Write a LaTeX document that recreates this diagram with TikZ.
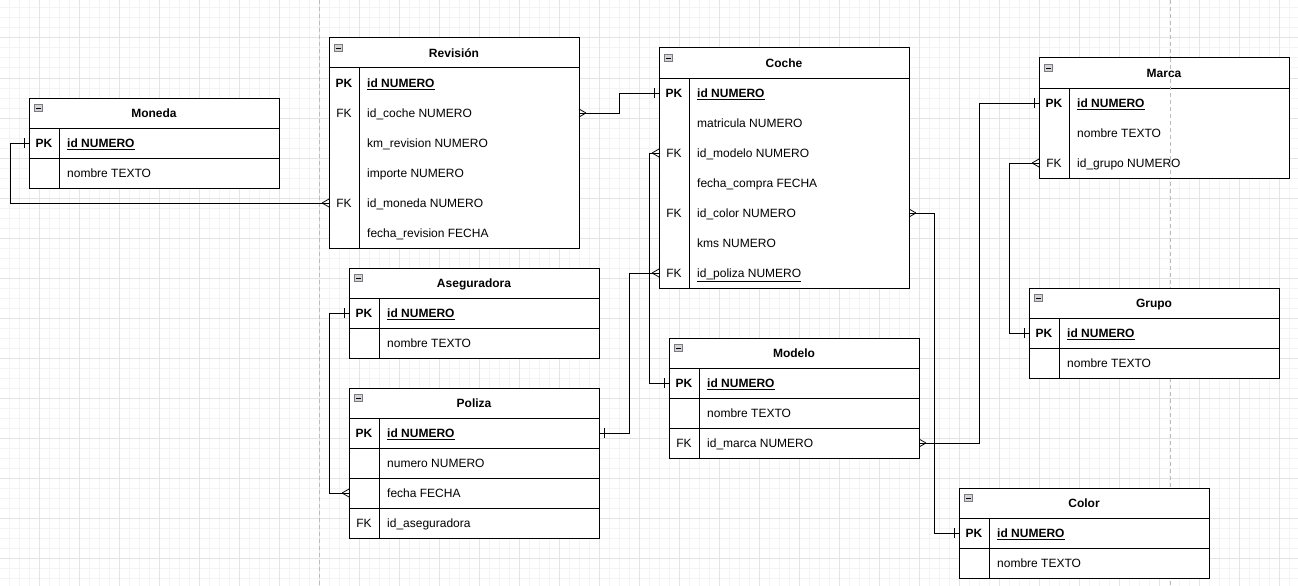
\documentclass[tikz,border=0pt]{standalone}
\usepackage{fontspec}
\setmainfont{Liberation Sans}
\definecolor{gminor}{HTML}{F4F4F4}
\definecolor{gmajor}{HTML}{E4E4E4}
\definecolor{pagedash}{HTML}{BBBBBB}
\definecolor{iconfill}{HTML}{D4D4D8}
\definecolor{iconline}{HTML}{7A7A80}
\tikzset{
  tline/.style={line width=1pt, draw=black},
  hdrbox/.style={draw, line width=1pt, minimum width=250pt, minimum height=30pt, anchor=north west, inner sep=0pt, outer sep=0pt, font=\fontsize{12}{14}\selectfont\bfseries, text height=8.6pt, text depth=0pt, fill=white},
  rowline/.style={draw, line width=1pt, minimum width=250pt, minimum height=30pt, anchor=north west, inner sep=0pt, outer sep=0pt, fill=white},
  rowfree/.style={minimum width=250pt, minimum height=30pt, anchor=north west, inner sep=0pt, outer sep=0pt, fill=white},
  keytxt/.style={anchor=center, inner sep=0pt, text height=8.6pt, text depth=0pt},
  fldtxt/.style={anchor=west, inner sep=0pt, text height=8.6pt, text depth=0pt},
  rel/.style={line width=1pt, draw=black},
  pagebreak/.style={pagedash, line width=1pt, dash pattern=on 4pt off 3pt},
  iconbox/.style={draw=iconline, fill=iconfill, minimum width=8pt, minimum height=7pt, inner sep=0pt, line width=0.6pt},
  manyW/.pic={\draw[line width=0.8pt] (-7,0) -- (0,-4) (-7,0) -- (0,4);},
  manyE/.pic={\draw[line width=0.8pt] (7,0) -- (0,-4) (7,0) -- (0,4);},
  oneW/.pic={\draw[line width=0.9pt] (-5,-5) -- (-5,5);},
  oneE/.pic={\draw[line width=0.9pt] (5,-5) -- (5,5);},
}
\newcommand\ehead[4]{%
  \node[hdrbox] (#1) at (#2,#3) {#4};
  \node[iconbox] (#1-i) at ([xshift=9.5pt,yshift=-10pt]#1.north west) {};
  \draw[line width=0.9pt] ([xshift=-2.5pt]#1-i.center) -- ([xshift=2.5pt]#1-i.center);
}
\newcommand\erow[6]{%
  \node[#1] (#2) at (#3,#4) {};
  \node[keytxt] (#2-k) at ([xshift=15pt]#2.west) {#5};
  \node[fldtxt] (#2-f) at ([xshift=38pt]#2.west) {#6};
}
\newcommand\eframe[3]{%
  \draw[tline] (#1.north west) rectangle (#2.south east);
  \draw[tline] ([xshift=30pt]#3.north west) -- ([xshift=30pt]#2.south west);
}
\begin{document}
\begin{tikzpicture}[x=1pt, y=-1pt, font=\fontsize{12}{14}\selectfont]
\useasboundingbox (0,0) rectangle (1298,586);
\fill[white] (0,0) rectangle (1298,586);
% grid
\foreach \g in {9,19,...,1298} {\draw[gminor, line width=1pt] (\g,0) -- (\g,586);}
\foreach \g in {8,18,...,586} {\draw[gminor, line width=1pt] (0,\g) -- (1298,\g);}
\foreach \g in {39,79,...,1298} {\draw[gmajor, line width=1pt] (\g,0) -- (\g,586);}
\foreach \g in {38,78,...,586} {\draw[gmajor, line width=1pt] (0,\g) -- (1298,\g);}
% page break lines
\draw[pagebreak] (319,0) -- (319,586);
\draw[pagebreak] (1170,0) -- (1170,586);

% Moneda
\ehead{mon}{29}{98}{Moneda}
\erow{rowline}{mon-r1}{29}{128}{\textbf{PK}}{\textbf{\underline{id NUMERO}}}
\erow{rowline}{mon-r2}{29}{158}{}{nombre TEXTO}
\eframe{mon}{mon-r2}{mon-r1}

% Revision
\ehead{rev}{329}{38}{Revisión}
\erow{rowline}{rev-r1}{329}{68}{\textbf{PK}}{\textbf{\underline{id NUMERO}}}
\erow{rowfree}{rev-r2}{329}{98}{FK}{id\_coche NUMERO}
\erow{rowfree}{rev-r3}{329}{128}{}{km\_revision NUMERO}
\erow{rowfree}{rev-r4}{329}{158}{}{importe NUMERO}
\erow{rowfree}{rev-r5}{329}{188}{FK}{id\_moneda NUMERO}
\erow{rowfree}{rev-r6}{329}{218}{}{fecha\_revision FECHA}
\eframe{rev}{rev-r6}{rev-r1}

% Aseguradora
\ehead{ase}{349}{268}{Aseguradora}
\erow{rowline}{ase-r1}{349}{298}{\textbf{PK}}{\textbf{\underline{id NUMERO}}}
\erow{rowline}{ase-r2}{349}{328}{}{nombre TEXTO}
\eframe{ase}{ase-r2}{ase-r1}

% Poliza
\ehead{pol}{349}{388}{Poliza}
\erow{rowline}{pol-r1}{349}{418}{\textbf{PK}}{\textbf{\underline{id NUMERO}}}
\erow{rowline}{pol-r2}{349}{448}{}{numero NUMERO}
\erow{rowline}{pol-r3}{349}{478}{}{fecha FECHA}
\erow{rowline}{pol-r4}{349}{508}{FK}{id\_aseguradora}
\eframe{pol}{pol-r4}{pol-r1}

% Coche
\ehead{coc}{659}{48}{Coche}
\erow{rowline}{coc-r1}{659}{78}{\textbf{PK}}{\textbf{\underline{id NUMERO}}}
\erow{rowfree}{coc-r2}{659}{108}{}{matricula NUMERO}
\erow{rowfree}{coc-r3}{659}{138}{FK}{id\_modelo NUMERO}
\erow{rowfree}{coc-r4}{659}{168}{}{fecha\_compra FECHA}
\erow{rowfree}{coc-r5}{659}{198}{FK}{id\_color NUMERO}
\erow{rowfree}{coc-r6}{659}{228}{}{kms NUMERO}
\erow{rowfree}{coc-r7}{659}{258}{FK}{\underline{id\_poliza NUMERO}}
\eframe{coc}{coc-r7}{coc-r1}

% Modelo
\ehead{mod}{669}{338}{Modelo}
\erow{rowline}{mod-r1}{669}{368}{\textbf{PK}}{\textbf{\underline{id NUMERO}}}
\erow{rowline}{mod-r2}{669}{398}{}{nombre TEXTO}
\erow{rowline}{mod-r3}{669}{428}{FK}{id\_marca NUMERO}
\eframe{mod}{mod-r3}{mod-r1}

% Marca
\ehead{mar}{1039}{58}{Marca}
\erow{rowline}{mar-r1}{1039}{88}{\textbf{PK}}{\textbf{\underline{id NUMERO}}}
\erow{rowfree}{mar-r2}{1039}{118}{}{nombre TEXTO}
\erow{rowfree}{mar-r3}{1039}{148}{FK}{id\_grupo NUMERO}
\eframe{mar}{mar-r3}{mar-r1}
% page break visible through Marca
\draw[pagebreak] (1170,58) -- (1170,178);

% Grupo
\ehead{gru}{1029}{288}{Grupo}
\erow{rowline}{gru-r1}{1029}{318}{\textbf{PK}}{\textbf{\underline{id NUMERO}}}
\erow{rowline}{gru-r2}{1029}{348}{}{nombre TEXTO}
\eframe{gru}{gru-r2}{gru-r1}

% Color
\ehead{col}{959}{488}{Color}
\erow{rowline}{col-r1}{959}{518}{\textbf{PK}}{\textbf{\underline{id NUMERO}}}
\erow{rowline}{col-r2}{959}{548}{}{nombre TEXTO}
\eframe{col}{col-r2}{col-r1}

% Relationships
\draw[rel] (rev-r5.west) -| ([xshift=-19pt]mon-r1.west) -- (mon-r1.west);
\pic at (rev-r5.west) {manyW}; \pic at (mon-r1.west) {oneW};

\draw[rel] (rev-r2.east) -- ++(40,0) |- (coc-r1.west);
\pic at (rev-r2.east) {manyE}; \pic at (coc-r1.west) {oneW};

\draw[rel] (coc-r3.west) -- ++(-10,0) |- (mod-r1.west);
\pic at (coc-r3.west) {manyW}; \pic at (mod-r1.west) {oneW};

\draw[rel] (coc-r7.west) -- ++(-30,0) |- (pol-r1.east);
\pic at (coc-r7.west) {manyW}; \pic at (pol-r1.east) {oneE};

\draw[rel] (coc-r5.east) -- ++(25,0) |- (col-r1.west);
\pic at (coc-r5.east) {manyE}; \pic at (col-r1.west) {oneW};

\draw[rel] (mod-r3.east) -- ++(60,0) |- (mar-r1.west);
\pic at (mod-r3.east) {manyE}; \pic at (mar-r1.west) {oneW};

\draw[rel] (mar-r3.west) -- ++(-30,0) |- (gru-r1.west);
\pic at (mar-r3.west) {manyW}; \pic at (gru-r1.west) {oneW};

\draw[rel] (pol-r3.west) -- ++(-20,0) |- (ase-r1.west);
\pic at (pol-r3.west) {manyW}; \pic at (ase-r1.west) {oneW};
\end{tikzpicture}
\end{document}
